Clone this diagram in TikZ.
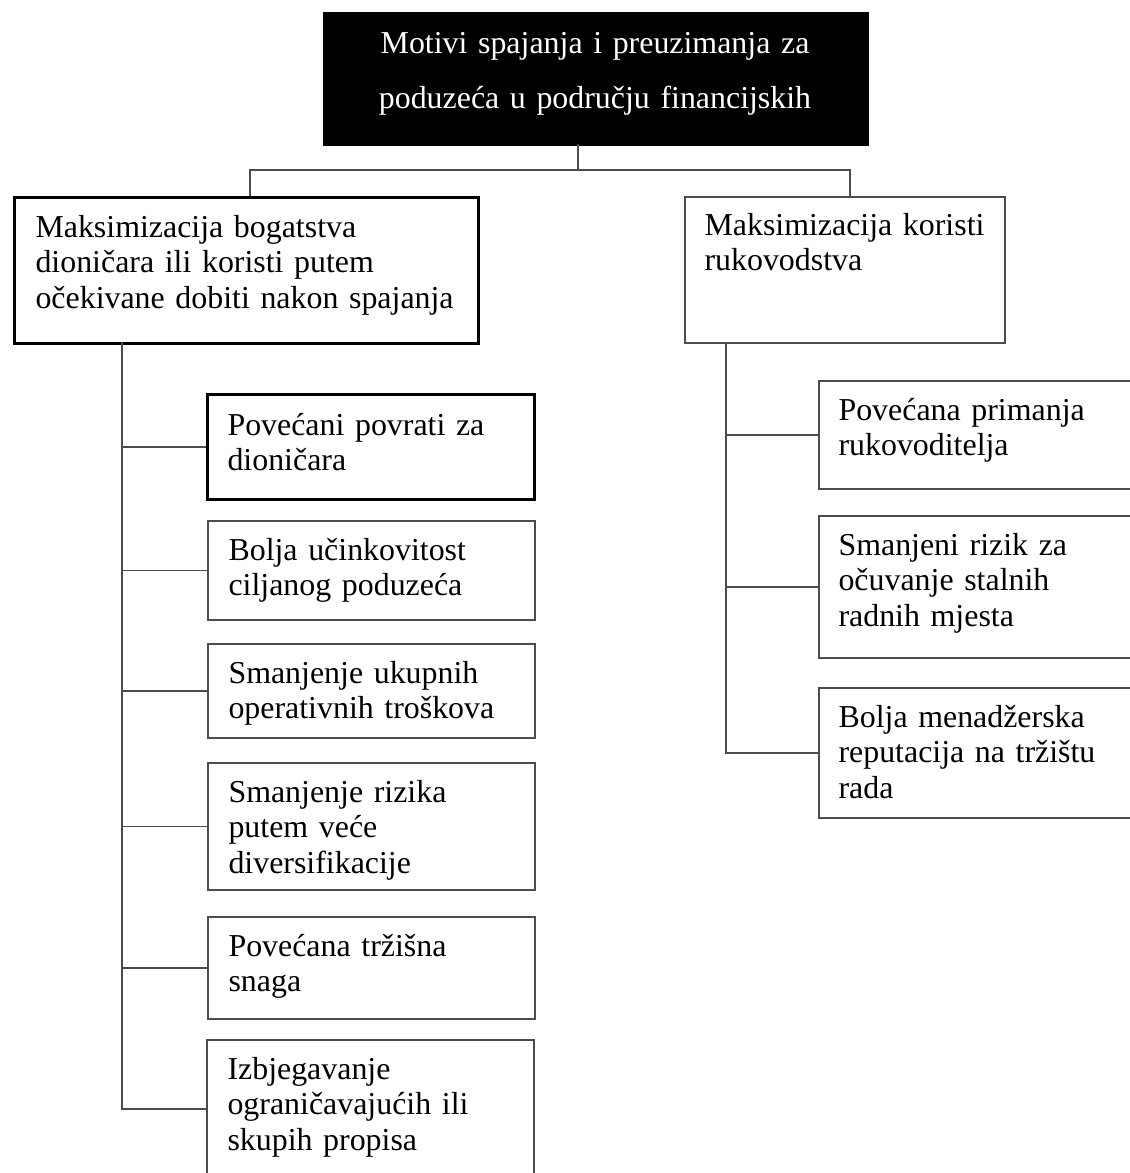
\documentclass[tikz,border=0pt]{standalone}
\usepackage{fontspec}
\setmainfont{Liberation Serif}
\usepackage{tikz}

\begin{document}
\begin{tikzpicture}[x=0.3762pt, y=-0.3762pt]
    \def\px{0.3762pt}
    \tikzstyle{box}=[draw=black!70, line width=0.6pt, anchor=north west, inner sep=0pt]
    \tikzstyle{bold}=[draw=black, line width=1.1pt]
    \tikzstyle{txt}=[anchor=base west, inner sep=0pt, text width=440*\px, align=left, font=\fontsize{12pt}{13.5pt}\selectfont]
    \tikzstyle{conn}=[draw=black!70, line width=0.6pt]

    \clip (0,0) rectangle (1130,1173);

    % top box
    \node[box, fill=black, draw=black, minimum width=544*\px, minimum height=132*\px] (T) at (323,12) {};
    \node[txt, anchor=base, text width=540*\px, align=center, text=white, font=\fontsize{12pt}{20.7pt}\selectfont] (T-t) at (595,53) {Motivi spajanja i preuzimanja za\\ poduzeća u području financijskih};

    % the two branches
    \node[box, bold, minimum width=464*\px, minimum height=146*\px] (L0) at (13,196) {};
    \node[txt] (L0-t) at (35,237) {Maksimizacija bogatstva\\ dioničara ili koristi putem\\ očekivane dobiti nakon spajanja};
    \node[box, minimum width=320*\px, minimum height=146*\px] (R0) at (684,196) {};
    \node[txt] (R0-t) at (704,235) {Maksimizacija koristi\\ rukovodstva};

    % left column
    \node[box, bold, minimum width=327*\px, minimum height=105*\px] (L1) at (206,393) {};
    \node[txt] (L1-t) at (227,435) {Povećani povrati za\\ dioničara};
    \foreach \name / \x / \y / \h / \txt in {
        2/207/520/99/{Bolja učinkovitost\\ ciljanog poduzeća},
        3/207/643/94/{Smanjenje ukupnih\\ operativnih troškova},
        4/207/762/127/{Smanjenje rizika\\ putem veće\\ diversifikacije},
        5/207/916/102/{Povećana tržišna\\ snaga},
        6/206/1039/138/{Izbjegavanje\\ ograničavajućih ili\\ skupih propisa}}
    {
        \node[box, minimum width=327*\px, minimum height=\h*\px] (L\name) at (\x,\y) {};
        \node[txt] (L\name-t) at (\x+21,\y+40) {\txt};
    }

    % right column
    \foreach \name / \y / \h / \txt in {
        1/380/108/{Povećana primanja\\ rukovoditelja},
        2/515/142/{Smanjeni rizik za\\ očuvanje stalnih\\ radnih mjesta},
        3/687/130/{Bolja menadžerska\\ reputacija na tržištu\\ rada}}
    {
        \node[box, minimum width=326*\px, minimum height=\h*\px] (R\name) at (818,\y) {};
        \node[txt] (R\name-t) at (838,\y+40) {\txt};
    }

    % connectors
    \coordinate (Tdrop) at (578,144);
    \coordinate (L0-in) at (250,196);
    \coordinate (R0-in) at (850,196);
    \draw[conn] (Tdrop) -- ++(0,26) -| (L0-in);
    \draw[conn] (Tdrop) -- ++(0,26) -| (R0-in);

    \coordinate (L-spine) at (122,342);
    \foreach \i in {1,...,6}
        \draw[conn] (L-spine) |- (L\i.west);
    \coordinate (R-spine) at (726,342);
    \foreach \i in {1,...,3}
        \draw[conn] (R-spine) |- (R\i.west);
\end{tikzpicture}
\end{document}
